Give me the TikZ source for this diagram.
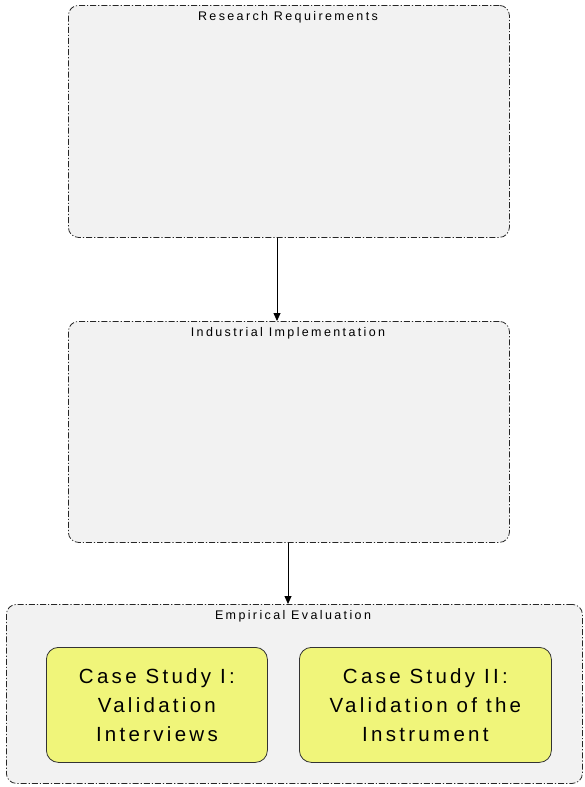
\documentclass[tikz,border=0pt]{standalone}
\usepackage{fontspec}
\setmainfont{Liberation Sans}
\newfontfamily\spaced[LetterSpace=16]{Liberation Sans}
\newfontfamily\lblspaced[LetterSpace=19]{Liberation Sans}
\usetikzlibrary{arrows.meta}
\definecolor{boxgray}{HTML}{F2F2F2}
\definecolor{caseyellow}{HTML}{F0F57A}
\tikzset{
  group/.style={draw=black!85, fill=boxgray, line width=0.8pt, rounded corners=10pt,
    dash pattern=on 6pt off 2pt on 1.2pt off 2pt},
  grouplabel/.style={font=\lblspaced\fontsize{12.5}{15}\selectfont, anchor=base},
  casebox/.style={draw=black!80, fill=caseyellow, line width=0.8pt, rounded corners=12pt,
    align=center, font=\spaced\fontsize{20.5}{29}\selectfont},
  flow/.style={-{Triangle[length=8pt,width=7pt]}, line width=0.8pt}
}
\begin{document}
\begin{tikzpicture}[x=1pt,y=-1pt]
\useasboundingbox (0,0) rectangle (584,787);
% groups
\node[group, minimum width=441pt, minimum height=232pt, anchor=north west] (rr) at (68,5) {};
\node[grouplabel] (rrl) at (288,20) {Research Requirements};
\node[group, minimum width=441pt, minimum height=221pt, anchor=north west] (ii) at (68,321) {};
\node[grouplabel] (iil) at (288,336) {Industrial Implementation};
\node[group, minimum width=576pt, minimum height=179pt, anchor=north west] (ee) at (6,604) {};
\node[grouplabel] (eel) at (293,619) {Empirical Evaluation};
% case studies
\node[casebox, minimum width=221pt, minimum height=115pt, anchor=north west] (cs1) at (46,647)
  {Case Study I:\\Validation\\Interviews};
\node[casebox, minimum width=252pt, minimum height=115pt, anchor=north west] (cs2) at (299,647)
  {Case Study II:\\Validation of the\\Instrument};
% connectors
\draw[flow] (rr.south -| 277,0) -- (ii.north -| 277,0);
\draw[flow] (ii.south -| 288,0) -- (ee.north -| 288,0);
\end{tikzpicture}
\end{document}
